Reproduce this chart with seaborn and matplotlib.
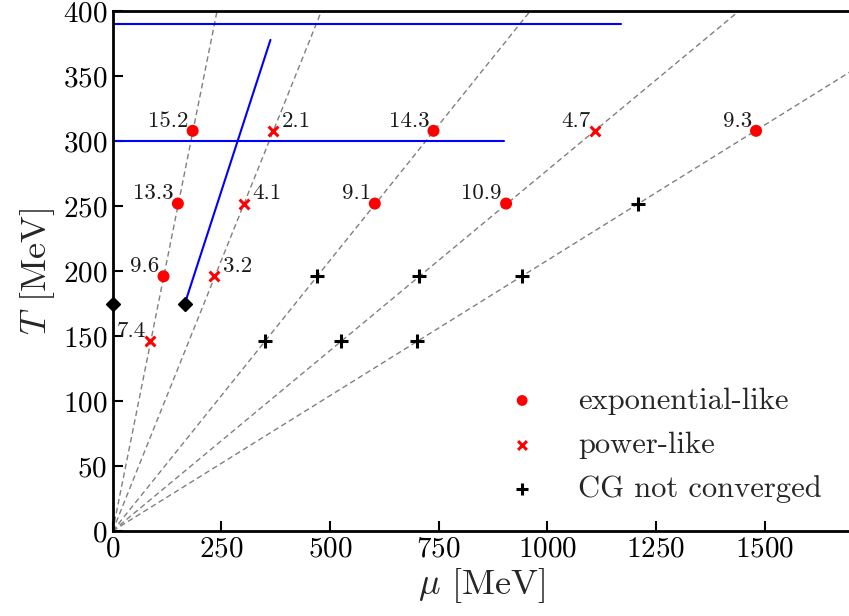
import matplotlib
matplotlib.use("Agg")
import matplotlib.pyplot as plt
import seaborn as sns
import pandas as pd

# Lattice points in the (mu, T) plane, grouped by the behaviour found there
exp_mu = [117, 150, 184, 603, 738, 905, 1480]
exp_T = [196, 252, 308, 252, 308, 252, 308]
exp_labels = ["9.6", "13.3", "15.2", "9.1", "14.3", "10.9", "9.3"]

pow_mu = [86, 234, 301, 369, 1110]
pow_T = [146, 196, 252, 308, 308]
pow_labels = ["7.4", "3.2", "4.1", "2.1", "4.7"]
pow_label_side = ["left", "right", "right", "right", "left"]

cg_mu = [350, 471, 525, 705, 700, 941, 1208]
cg_T = [146, 196, 146, 196, 146, 196, 252]

# Fixed mu/T ratios of the simulation lines
ray_ratios = [0.6, 1.2, 2.4, 3.6, 4.8]

# Critical-point estimates and the crossover line
diamond_mu = [0, 166]
diamond_T = [175, 175]
crossover_mu = [166, 363]
crossover_T = [175, 378]
hline_T = [390, 300]
hline_mu_end = [1170, 900]

sns.set_theme(style="ticks")
plt.rcParams["font.family"] = ["serif"]
plt.rcParams["font.serif"] = ["cmr10", "DejaVu Serif"]
plt.rcParams["mathtext.fontset"] = "cm"
plt.rcParams["axes.formatter.use_mathtext"] = True

fig = plt.figure(figsize=(8.49, 6.16), dpi=100)
ax = fig.add_axes([0.1327, 0.138, 0.8705, 0.8437])

# dashed rays from the origin
for r in ray_ratios:
    ax.plot([0, r * 450], [0, 450], ls=(0, (4, 2.5)), color="#808080", lw=1.0, zorder=1)

# blue lines
for t, m in zip(hline_T, hline_mu_end):
    ax.plot([0, m], [t, t], color="blue", lw=1.5, zorder=2)
ax.plot(crossover_mu, crossover_T, color="blue", lw=1.5, zorder=2)

df_exp = pd.DataFrame({"mu": exp_mu, "T": exp_T})
df_pow = pd.DataFrame({"mu": pow_mu, "T": pow_T})
df_cg = pd.DataFrame({"mu": cg_mu, "T": cg_T})

sns.scatterplot(data=df_exp, x="mu", y="T", ax=ax, marker="o", s=75, color="red",
                edgecolor="none", label="exponential-like", zorder=4)
sns.scatterplot(data=df_pow, x="mu", y="T", ax=ax, marker="x", s=50, color="red",
                linewidth=2.2, label="power-like", zorder=4)
sns.scatterplot(data=df_cg, x="mu", y="T", ax=ax, marker="+", s=95, color="black",
                linewidth=2.2, label="CG not converged", zorder=4)

ax.plot(diamond_mu, diamond_T, ls="none", marker="D", ms=7, color="black",
        clip_on=False, zorder=5)

ann_fs = 16.5
for m, t, s in zip(exp_mu, exp_T, exp_labels):
    ax.annotate(s, (m, t), xytext=(-3, 3), textcoords="offset points",
                ha="right", va="baseline", fontsize=ann_fs, color="#1a1a1a")
for m, t, s, side in zip(pow_mu, pow_T, pow_labels, pow_label_side):
    if side == "right":
        ax.annotate(s, (m, t), xytext=(6, 3), textcoords="offset points",
                    ha="left", va="baseline", fontsize=ann_fs, color="#1a1a1a")
    else:
        ax.annotate(s, (m, t), xytext=(-3, 3), textcoords="offset points",
                    ha="right", va="baseline", fontsize=ann_fs, color="#1a1a1a")

ax.set_xlim(0, 1700)
ax.set_ylim(0, 400)
ax.set_xticks([0, 250, 500, 750, 1000, 1250, 1500])
ax.set_yticks([0, 50, 100, 150, 200, 250, 300, 350, 400])
ax.tick_params(direction="in", length=7, width=1.5, labelsize=21, colors="black",
               pad=4)
ax.set_xlabel(r"$\mu$ [MeV]", fontsize=26, labelpad=2)
ax.set_ylabel(r"$T$ [MeV]", fontsize=26, labelpad=4)
ax.spines["right"].set_visible(False)
for sp in ["left", "bottom", "top"]:
    ax.spines[sp].set_linewidth(2)
    ax.spines[sp].set_color("black")

leg = ax.legend(loc="lower right", bbox_to_anchor=(0.997, 0.0), frameon=False,
                fontsize=22, handletextpad=0.84, labelspacing=0.55, markerscale=0.9)

fig.savefig("out.png", dpi=100)
